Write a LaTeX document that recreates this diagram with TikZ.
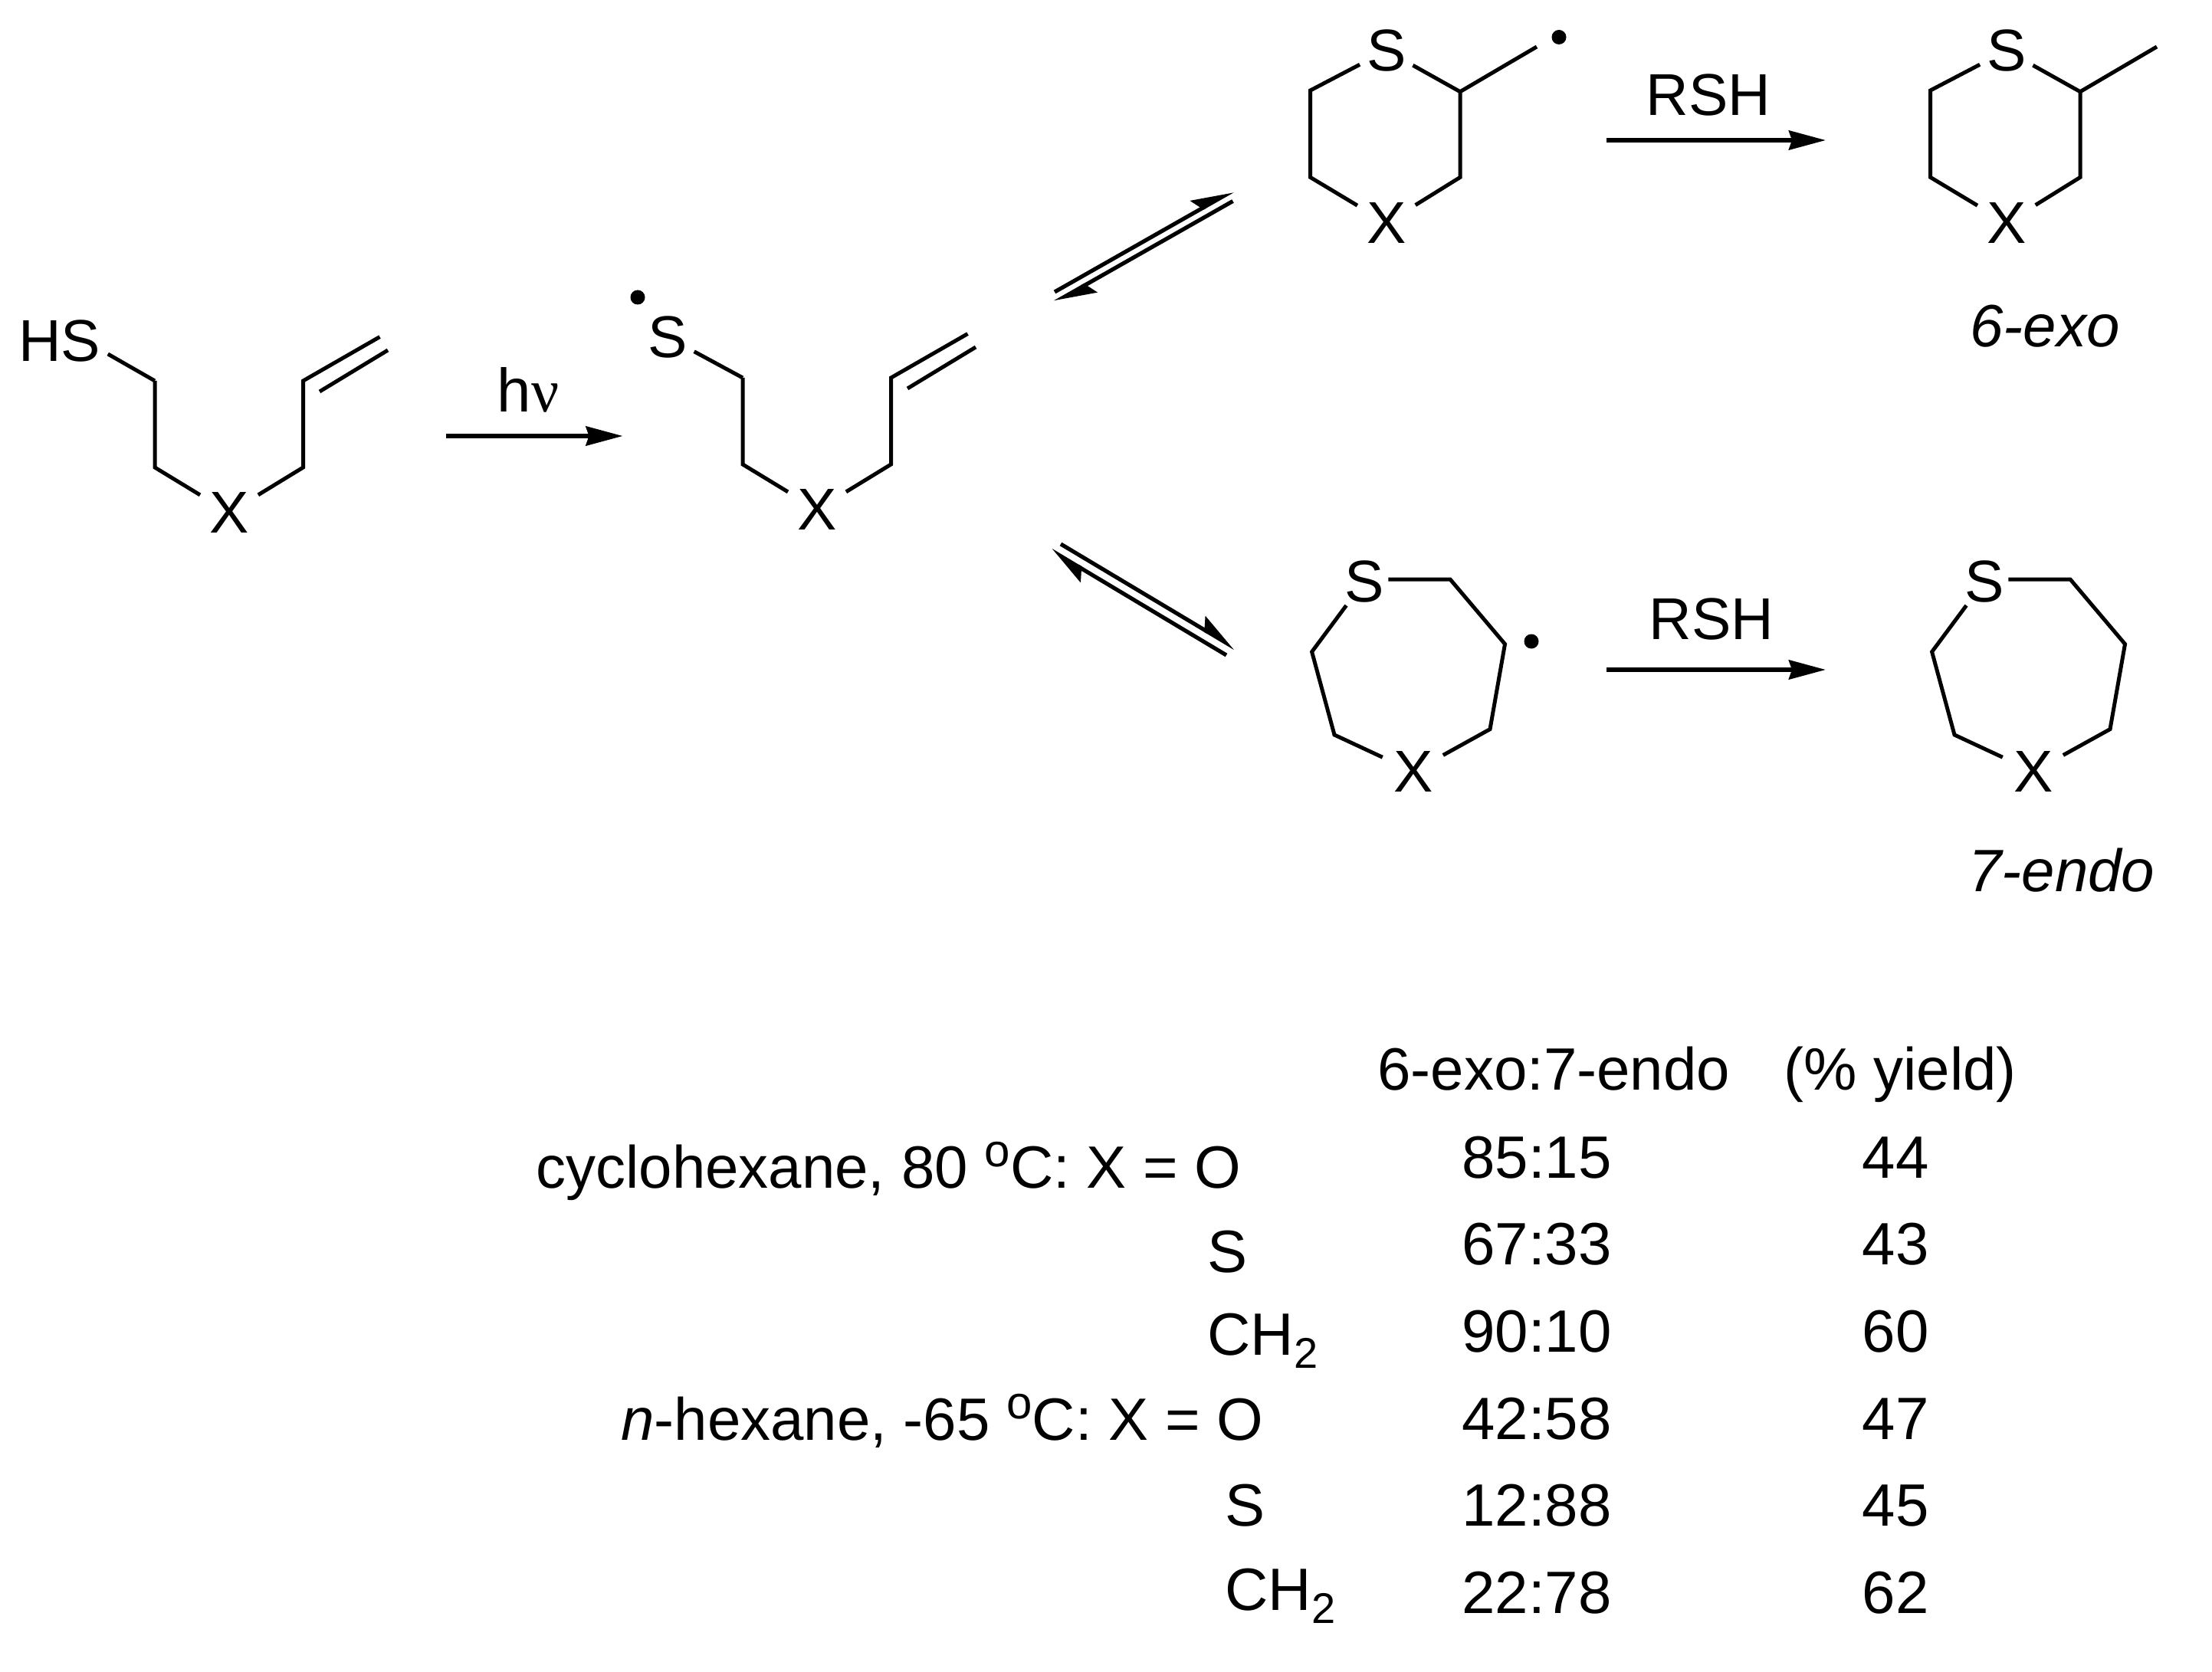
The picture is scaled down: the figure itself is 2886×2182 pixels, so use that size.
\documentclass[tikz,border=0pt]{standalone}
\usepackage{fontspec}
\setmainfont{Liberation Sans}
\newfontfamily\nufont{Liberation Serif}
\usetikzlibrary{arrows.meta,calc}
\newcommand{\subtwo}{\raisebox{-8.5pt}{\fontsize{28}{30}\selectfont 2}}
\newcommand{\dego}{\raisebox{14pt}{\fontsize{30}{32}\selectfont o}}
\tikzset{
  bond/.style={line width=2.5pt,line cap=butt,line join=miter},
  rxnarrow/.style={line width=2.8pt,-{Stealth[length=24pt,width=12.5pt,inset=2pt]}},
  eqarrow/.style={line width=2.6pt,-{Stealth[harpoon,length=23.5pt,width=16pt,inset=4pt]}},
  atomS/.style={circle,inner sep=0pt,minimum size=39pt,font=\chemfont},
  atomX/.style={circle,inner sep=0pt,minimum size=44pt,font=\chemfont},
  lab/.style={inner sep=0pt,anchor=base west,font=\chemfont},
  labc/.style={inner sep=0pt,anchor=base,font=\chemfont},
  tab/.style={inner sep=0pt,anchor=base west,font=\tabfont},
  tabc/.style={inner sep=0pt,anchor=base,font=\tabfont},
  radical/.style={circle,fill=black,inner sep=0pt,minimum size=9.5pt},
}
\newcommand{\chemfont}{\fontsize{38.5}{46}\selectfont}
\newcommand{\tabfont}{\fontsize{39}{47}\selectfont}
% open chain with terminal alkene: #1 prefix, #2 dx, #3 dy
\newcommand{\chainmol}[3]{
  \coordinate (#1a) at (202+#2,497+#3);
  \coordinate (#1b) at (202+#2,610+#3);
  \node[atomX] (#1X) at (299+#2,669+#3) {X};
  \coordinate (#1c) at (395.5+#2,610+#3);
  \coordinate (#1d) at (395.5+#2,497+#3);
  \coordinate (#1e) at (495.5+#2,439.6+#3);
  \coordinate (#1f) at (417+#2,511+#3);
  \coordinate (#1g) at (506+#2,457+#3);
  \draw[bond] (#1a) -- (#1b) -- (#1X);
  \draw[bond] (#1X) -- (#1c) -- (#1d) -- (#1e);
  \draw[bond] (#1f) -- (#1g);
}
% six-membered ring: #1 prefix, #2 dx
\newcommand{\sixmol}[2]{
  \node[atomS] (#1S) at (1809+#2,66) {S};
  \node[atomX] (#1X) at (1809+#2,291) {X};
  \coordinate (#1a) at (1709.6+#2,118);
  \coordinate (#1b) at (1709.6+#2,231.4);
  \coordinate (#1c) at (1905+#2,231.4);
  \coordinate (#1d) at (1905+#2,119.7);
  \coordinate (#1e) at (2005+#2,61);
  \draw[bond] (#1S) -- (#1a) -- (#1b) -- (#1X);
  \draw[bond] (#1X) -- (#1c) -- (#1d) -- (#1S);
  \draw[bond] (#1d) -- (#1e);
}
% seven-membered ring: #1 prefix, #2 dx
\newcommand{\sevenmol}[2]{
  \node[atomS] (#1S) at (1780+#2,758.5) {S};
  \node[atomX] (#1X) at (1844+#2,1007) {X};
  \coordinate (#1a) at (1892+#2,756);
  \coordinate (#1b) at (1963.5+#2,840.5);
  \coordinate (#1c) at (1944+#2,951.6);
  \coordinate (#1d) at (1741+#2,959);
  \coordinate (#1e) at (1711.6+#2,850.6);
  \draw[bond,shorten <=-4pt] (#1a -| #1S.east) -- (#1a) -- (#1b) -- (#1c) -- (#1X);
  \draw[bond] (#1X) -- (#1d) -- (#1e) -- (#1S);
}
\begin{document}
\begin{tikzpicture}[x=0.5pt,y=-0.5pt]
\useasboundingbox (0,0) rectangle (2886,2182);
\fill[white] (0,0) rectangle (2886,2182);

% starting thiol
\node[lab] (HS) at (24,472) {HS};
\chainmol{m}{0}{0}
\draw[bond] ($(HS.east)+(9,16.5)$) -- (ma);

% photolysis arrow
\coordinate (h1) at (582,569);
\coordinate (h2) at (812.5,569);
\draw[rxnarrow] (h1) -- (h2);
\node[labc,font=\fontsize{40}{48}\selectfont] (hv) at (689,538) {h{\nufont ν}};

% thiyl radical
\node[atomS] (rS) at (871,440) {S};
\node[radical] (rdot) at (832,388) {};
\chainmol{r}{767}{-4}
\draw[bond] (rS) -- (ra);

% equilibrium arrows, upper
\coordinate (u1) at (1376,381);
\coordinate (u2) at (1608.5,249);
\coordinate (u3) at (1608.5,262.5);
\coordinate (u4) at (1376,394.6);
\draw[eqarrow] (u1) -- (u2);
\draw[eqarrow] (u3) -- (u4);

% equilibrium arrows, lower
\coordinate (l1) at (1384,710);
\coordinate (l2) at (1611.5,846);
\coordinate (l3) at (1600,855);
\coordinate (l4) at (1371,718);
\draw[eqarrow] (l1) -- (l2);
\draw[eqarrow] (l3) -- (l4);

% 6-exo radical and product
\sixmol{p}{0}
\node[radical] (pdot) at (2034,48.5) {};
\coordinate (ra1) at (2096,183);
\coordinate (ra2) at (2382,183);
\draw[rxnarrow] (ra1) -- (ra2);
\node[labc] (rsh1) at (2229,151) {RSH};
\sixmol{q}{809}
\node[lab,font=\tabfont\itshape] (exo) at (2570,453) {6-exo};

% 7-endo radical and product
\sevenmol{s}{0}
\node[radical] (sdot) at (1998,837) {};
\coordinate (rb1) at (2096,874);
\coordinate (rb2) at (2382,874);
\draw[rxnarrow] (rb1) -- (rb2);
\node[labc] (rsh2) at (2233,834) {RSH};
\sevenmol{t}{809}
\node[lab,font=\tabfont\itshape] (endo) at (2568,1163) {7-endo};

% table
\node[tab] (th1) at (1797,1422) {6-exo:7-endo};
\node[tab] (th2) at (2327,1422) {(\% yield)};

\node[tab] (c1) at (699,1550) {cyclohexane, 80 \dego C: X = O};
\node[tab] (c2) at (1575,1660) {S};
\node[tab] (c3) at (1575,1768) {CH\subtwo};
\node[tab] (c4) at (810,1879) {{\itshape n}-hexane, -65 \dego C: X = O};
\node[tab] (c5) at (1598,1991) {S};
\node[tab] (c6) at (1598,2101) {CH\subtwo};

\node[tabc] (r1) at (2005,1537) {85:15};
\node[tabc] (r2) at (2005,1650.5) {67:33};
\node[tabc] (r3) at (2005,1764) {90:10};
\node[tabc] (r4) at (2005,1878) {42:58};
\node[tabc] (r5) at (2005,1991) {12:88};
\node[tabc] (r6) at (2005,2105) {22:78};

\node[tabc] (y1) at (2473,1537) {44};
\node[tabc] (y2) at (2473,1650.5) {43};
\node[tabc] (y3) at (2473,1764) {60};
\node[tabc] (y4) at (2473,1878) {47};
\node[tabc] (y5) at (2473,1991) {45};
\node[tabc] (y6) at (2473,2105) {62};
\end{tikzpicture}
\end{document}
